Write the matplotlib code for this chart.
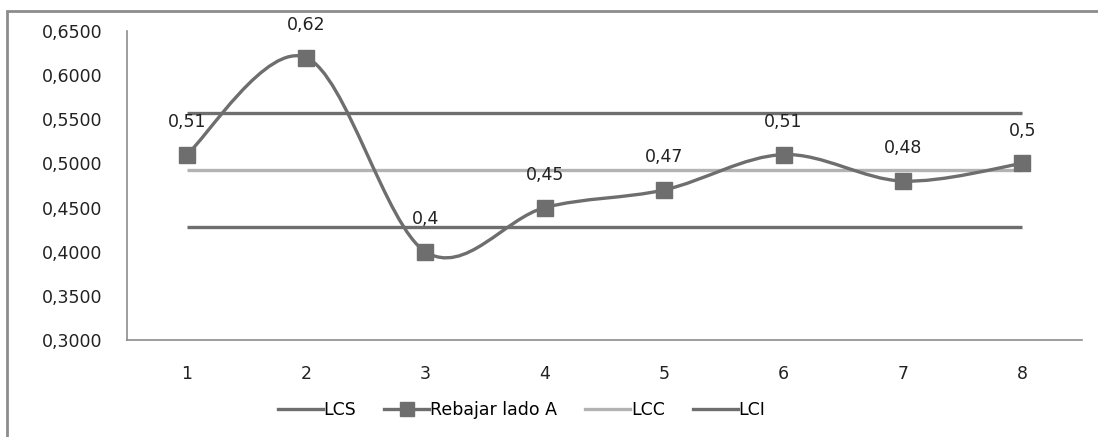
import matplotlib.pyplot as plt
from matplotlib.path import Path
from matplotlib.patches import PathPatch, Rectangle
import numpy as np

# Control chart data
muestras = [1, 2, 3, 4, 5, 6, 7, 8]
rebajar_lado_a = [0.51, 0.62, 0.40, 0.45, 0.47, 0.51, 0.48, 0.50]
lcs = 0.5575
lcc = 0.4925
lci = 0.4275
y_ticks = [0.30, 0.35, 0.40, 0.45, 0.50, 0.55, 0.60, 0.65]

dark = '#6e6e6e'
light = '#b3b3b3'
font = 'DejaVu Sans'


def smooth_path(xs, ys):
    # Bezier spline through every point, like the smoothed line option in spreadsheets
    pts = np.column_stack([xs, ys]).astype(float)
    verts = [pts[0]]
    codes = [Path.MOVETO]
    n = len(pts)
    for i in range(n - 1):
        p0 = pts[i - 1] if i > 0 else pts[i]
        p1 = pts[i]
        p2 = pts[i + 1]
        p3 = pts[i + 2] if i + 2 < n else pts[i + 1]
        c1 = p1 + (p2 - p0) / 6.0
        c2 = p2 - (p3 - p1) / 6.0
        verts += [c1, c2, p2]
        codes += [Path.CURVE4] * 3
    return Path(verts, codes)


fig = plt.figure(figsize=(10.98, 4.37), dpi=100)
ax = fig.add_axes([0.1157, 0.222, 0.8697, 0.707])

x = np.arange(len(muestras))
ax.plot([x[0], x[-1]], [lcs, lcs], color=dark, lw=2.4, solid_capstyle='butt', label='LCS')
ax.plot([x[0], x[-1]], [lcc, lcc], color=light, lw=2.4, solid_capstyle='butt', label='LCC')
ax.plot([x[0], x[-1]], [lci, lci], color=dark, lw=2.4, solid_capstyle='butt', label='LCI')

ax.add_patch(PathPatch(smooth_path(x, rebajar_lado_a), facecolor='none',
                       edgecolor=dark, lw=2.4, zorder=3))
ax.plot(x, rebajar_lado_a, ls='none', marker='s', ms=12, color=dark, zorder=4)

for xi, yi in zip(x, rebajar_lado_a):
    txt = f'{yi:g}'.replace('.', ',')
    ax.annotate(txt, (xi, yi), xytext=(0, 17), textcoords='offset points',
                ha='center', va='bottom', fontsize=12.5, family=font, color='#222222')

ax.set_xlim(-0.5, len(muestras) - 0.5)
ax.set_ylim(0.30, 0.65)
ax.set_xticks(x)
ax.set_xticklabels([str(m) for m in muestras], fontsize=12.5, family=font, color='#222222')
ax.set_yticks(y_ticks)
ax.set_yticklabels([f'{t:.4f}'.replace('.', ',') for t in y_ticks],
                   fontsize=12.5, family=font, color='#222222')
ax.tick_params(length=0, pad=18)
ax.tick_params(axis='x', pad=18)
for side in ['top', 'right']:
    ax.spines[side].set_visible(False)
for side in ['left', 'bottom']:
    ax.spines[side].set_color('#8c8c8c')
    ax.spines[side].set_linewidth(1.2)

# legend entries in the order shown beneath the chart
handles = [
    plt.Line2D([], [], color=dark, lw=2.4),
    plt.Line2D([], [], color=dark, lw=2.4, marker='s', ms=10),
    plt.Line2D([], [], color=light, lw=2.4),
    plt.Line2D([], [], color=dark, lw=2.4),
]
fig.legend(handles, ['LCS', 'Rebajar lado A', 'LCC', 'LCI'], loc='center',
           bbox_to_anchor=(0.475, 0.062), ncol=4, frameon=False,
           prop={'family': font, 'size': 12.5}, handlelength=2.6,
           handletextpad=0.05, columnspacing=1.6)

# chart area border
fig.patches.append(Rectangle((7 / 1098, -0.05), 1.2, 1 - 11 / 437 + 0.05,
                             transform=fig.transFigure, fill=False,
                             edgecolor='#8c8c8c', lw=2))

fig.savefig('out.png', dpi=100)
